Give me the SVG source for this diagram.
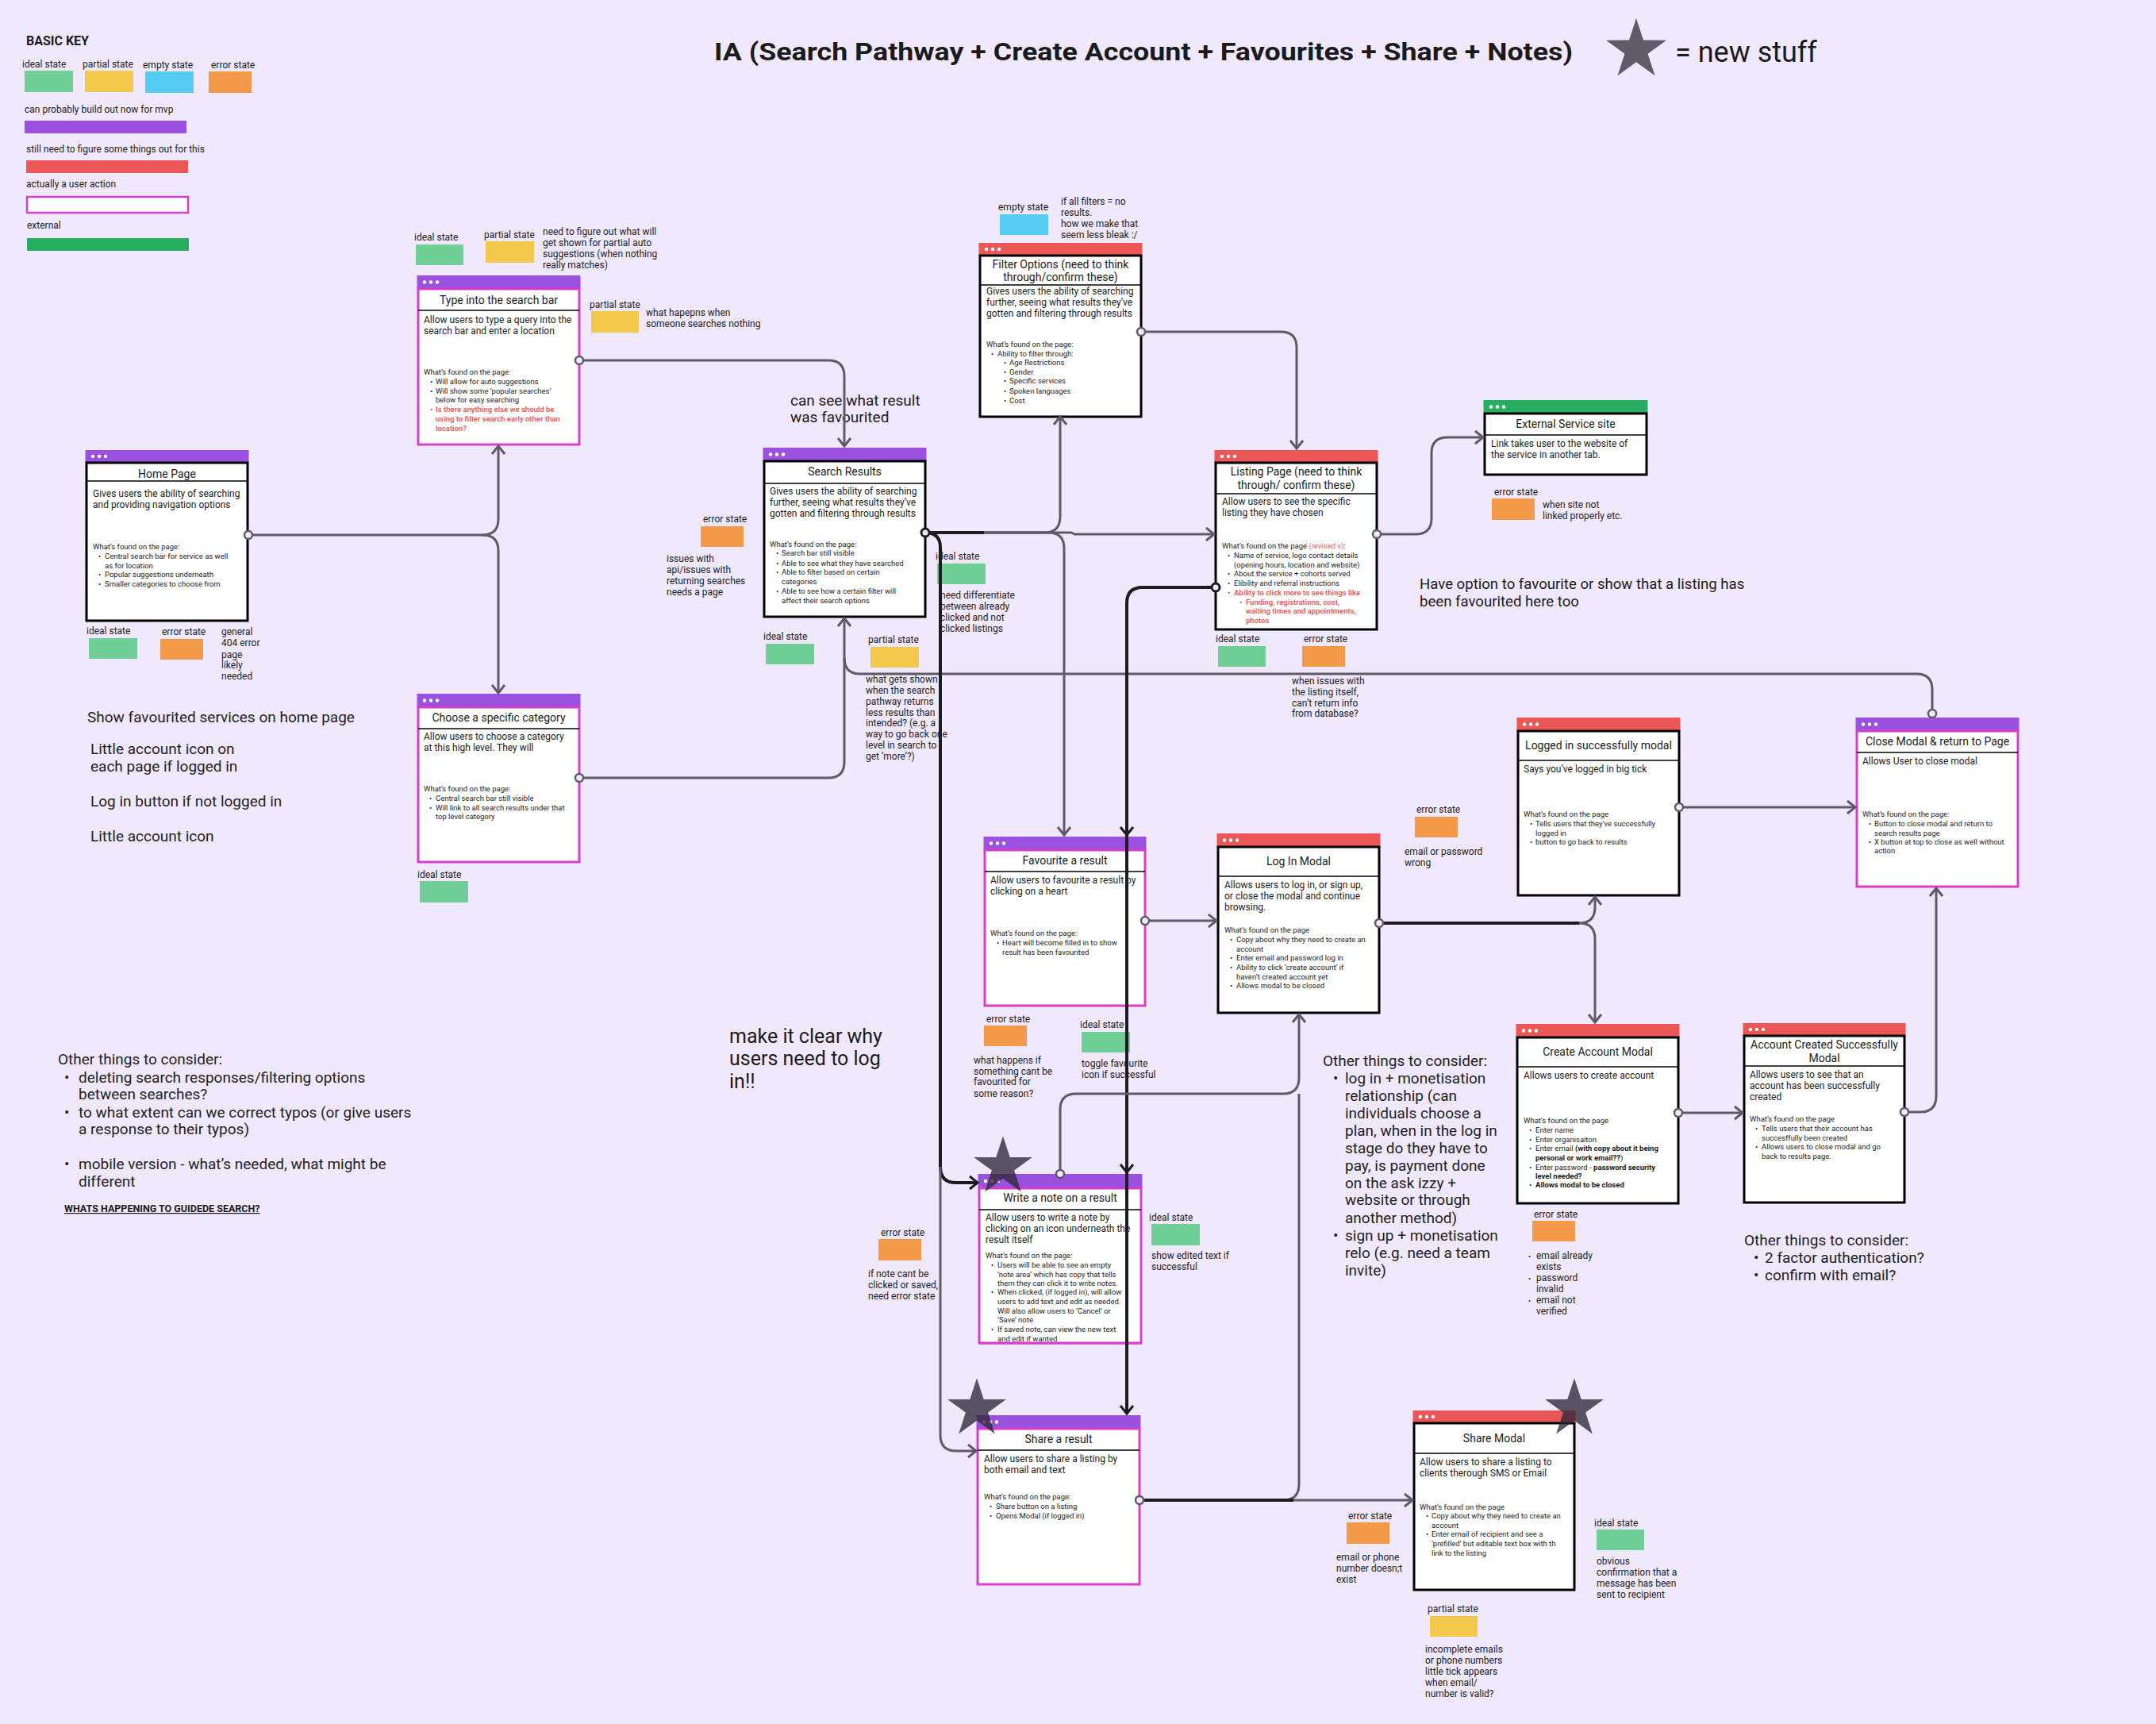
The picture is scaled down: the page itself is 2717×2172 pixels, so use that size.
<svg xmlns="http://www.w3.org/2000/svg" width="2717" height="2172" viewBox="0 0 2717 2172">
<style>
text{font-family:Roboto,"Liberation Sans",Arial,sans-serif;fill:#1b1b1b}
.ttl{font-size:14px;text-anchor:middle}
.dsc{font-size:12px}
.fnd{font-size:9.5px}
.red{fill:#eb5757;font-weight:600}
.b{font-weight:700}
.ann{font-size:12px;fill:#222}
.nt{font-size:19px;fill:#222}
.hp{fill:#9b51e0}.hr{fill:#eb5757}.hg{fill:#27ae60}
.box{fill:#fff;stroke:#000;stroke-width:3}
.boxu{fill:#fff;stroke:#d63fc8;stroke-width:3}
.dv{stroke:#000;stroke-width:1.5}
.dot{fill:#fff}
.si{fill:#6fcf97}.sp{fill:#f2c94c}.se{fill:#56ccf2}.sr{fill:#f2994a}
.con{fill:none;stroke:#5f5a68;stroke-width:3}
.conb{fill:none;stroke:#1c1b1f;stroke-width:4}
.pin{fill:#f0e8fd;stroke:#5f5a68;stroke-width:2.5}
.pinb{fill:#f0e8fd;stroke:#1c1b1f;stroke-width:3}
.star{fill:#2e2838;fill-opacity:0.78}
</style>
<defs>
<marker id="ag" viewBox="0 0 20 20" refX="12" refY="10" markerWidth="20" markerHeight="20" markerUnits="userSpaceOnUse" orient="auto"><path d="M2,2 L12,10 L2,18" fill="none" stroke="#5f5a68" stroke-width="3"/></marker>
<marker id="ab" viewBox="0 0 20 20" refX="12" refY="10" markerWidth="20" markerHeight="20" markerUnits="userSpaceOnUse" orient="auto"><path d="M2,2 L12,10 L2,18" fill="none" stroke="#1c1b1f" stroke-width="3"/></marker>
<polygon id="st" points="0,-40 8.99,-12.38 38.04,-12.36 14.55,4.73 23.51,32.36 0,15.3 -23.51,32.36 -14.55,4.73 -38.04,-12.36 -8.99,-12.38"/>
</defs>
<rect width="2717" height="2172" fill="#f0e8fd"/>

<g id="key">
<text x="33" y="57" style="font-size:16px;font-weight:700">BASIC KEY</text>
<text class="ann" x="28" y="85">ideal state</text>
<text class="ann" x="104" y="85">partial state</text>
<text class="ann" x="180" y="86">empty state</text>
<text class="ann" x="266" y="86">error state</text>
<rect class="si" x="31" y="89" width="61" height="27"/>
<rect class="sp" x="107" y="89" width="61" height="27"/>
<rect class="se" x="183" y="90" width="61" height="27"/>
<rect class="sr" x="263" y="90" width="54" height="27"/>
<text class="ann" x="31" y="142">can probably build out now for mvp</text>
<rect class="hp" x="31" y="152" width="204" height="16"/>
<text class="ann" x="33" y="192">still need to figure some things out for this</text>
<rect class="hr" x="33" y="202" width="204" height="16"/>
<text class="ann" x="33" y="236">actually a user action</text>
<rect x="34" y="248" width="203" height="20" fill="#fff" stroke="#d63fc8" stroke-width="2.5"/>
<text class="ann" x="34" y="288">external</text>
<rect class="hg" x="34" y="300" width="204" height="16"/>
</g>

<g id="title">
<text x="900" y="76" textLength="1082" lengthAdjust="spacingAndGlyphs" style="font-size:32px;font-weight:700">IA (Search Pathway + Create Account + Favourites + Share + Notes)</text>
<use href="#st" transform="translate(2062,63)" style="fill:#5f5b68"/>
<text x="2111" y="78" style="font-size:36px">= new stuff</text>
</g>

<g id="n-home">
<rect class="hp" x="107.5" y="567" width="206" height="16"/>
<circle class="dot" cx="117" cy="575" r="2.2"/><circle class="dot" cx="125" cy="575" r="2.2"/><circle class="dot" cx="133" cy="575" r="2.2"/>
<rect class="box" x="109" y="583" width="203" height="199"/>
<line class="dv" x1="109" y1="606" x2="312" y2="606"/>
<text class="ttl" x="210.5" y="602">Home Page</text>
<text class="dsc" x="117"><tspan x="117" y="626">Gives users the ability of searching</tspan><tspan x="117" y="640">and providing navigation options</tspan></text>
<text class="fnd"><tspan x="117" y="692">What’s found on the page:</tspan><tspan x="124" y="704">•</tspan><tspan x="132" y="704">Central search bar for service as well</tspan><tspan x="132" y="716">as for location</tspan><tspan x="124" y="727">•</tspan><tspan x="132" y="727">Popular suggestions underneath</tspan><tspan x="124" y="739">•</tspan><tspan x="132" y="739">Smaller categories to choose from</tspan></text>
</g>

<g id="n-type">
<rect class="hp" x="525.5" y="347" width="206" height="17"/>
<circle class="dot" cx="535" cy="355.5" r="2.2"/><circle class="dot" cx="543" cy="355.5" r="2.2"/><circle class="dot" cx="551" cy="355.5" r="2.2"/>
<rect class="boxu" x="527" y="364" width="203" height="196"/>
<line class="dv" x1="527" y1="391" x2="730" y2="391"/>
<text class="ttl" x="628.5" y="383">Type into the search bar</text>
<text class="dsc"><tspan x="534" y="407">Allow users to type a query into the</tspan><tspan x="534" y="421">search bar and enter a location</tspan></text>
<text class="fnd"><tspan x="534" y="472">What’s found on the page:</tspan><tspan x="542" y="484">•</tspan><tspan x="549" y="484">Will allow for auto suggestions</tspan><tspan x="542" y="496">•</tspan><tspan x="549" y="496">Will show some ‘popular searches’</tspan><tspan x="549" y="507">below for easy searching</tspan></text>
<text class="fnd red"><tspan x="542" y="519">•</tspan><tspan x="549" y="519">Is there anything else we should be</tspan><tspan x="549" y="531">using to filter search early other than</tspan><tspan x="549" y="543">location?</tspan></text>
</g>

<g id="n-category">
<rect class="hp" x="525.5" y="874" width="206" height="17"/>
<circle class="dot" cx="535" cy="882.5" r="2.2"/><circle class="dot" cx="543" cy="882.5" r="2.2"/><circle class="dot" cx="551" cy="882.5" r="2.2"/>
<rect class="boxu" x="527" y="891" width="203" height="195"/>
<line class="dv" x1="527" y1="918" x2="730" y2="918"/>
<text class="ttl" x="628.5" y="909">Choose a specific category</text>
<text class="dsc"><tspan x="534" y="932">Allow users to choose a category</tspan><tspan x="534" y="946">at this high level. They will</tspan></text>
<text class="fnd"><tspan x="534" y="997">What’s found on the page:</tspan><tspan x="541" y="1009">•</tspan><tspan x="549" y="1009">Central search bar still visible</tspan><tspan x="541" y="1021">•</tspan><tspan x="549" y="1021">Will link to all search results under that</tspan><tspan x="549" y="1032">top level category</tspan></text>
</g>

<g id="n-results">
<rect class="hp" x="961.5" y="564" width="206" height="17"/>
<circle class="dot" cx="971" cy="572.5" r="2.2"/><circle class="dot" cx="979" cy="572.5" r="2.2"/><circle class="dot" cx="987" cy="572.5" r="2.2"/>
<rect class="box" x="963" y="581" width="203" height="196"/>
<line class="dv" x1="963" y1="609" x2="1166" y2="609"/>
<text class="ttl" x="1064.5" y="599">Search Results</text>
<text class="dsc"><tspan x="970" y="623">Gives users the ability of searching</tspan><tspan x="970" y="637">further, seeing what results they’ve</tspan><tspan x="970" y="651">gotten and filtering through results</tspan></text>
<text class="fnd"><tspan x="970" y="689">What’s found on the page:</tspan><tspan x="978" y="700">•</tspan><tspan x="985" y="700">Search bar still visible</tspan><tspan x="978" y="713">•</tspan><tspan x="985" y="713">Able to see what they have searched</tspan><tspan x="978" y="724">•</tspan><tspan x="985" y="724">Able to filter based on certain</tspan><tspan x="985" y="736">categories</tspan><tspan x="978" y="748">•</tspan><tspan x="985" y="748">Able to see how a certain filter will</tspan><tspan x="985" y="760">affect their search options</tspan></text>
</g>

<g id="n-filter">
<rect class="hr" x="1233.5" y="306" width="206" height="16"/>
<circle class="dot" cx="1243" cy="314" r="2.2"/><circle class="dot" cx="1251" cy="314" r="2.2"/><circle class="dot" cx="1259" cy="314" r="2.2"/>
<rect class="box" x="1235" y="322" width="203" height="203"/>
<line class="dv" x1="1235" y1="359" x2="1438" y2="359"/>
<text class="ttl"><tspan x="1336.5" y="338">Filter Options (need to think</tspan><tspan x="1336.5" y="354">through/confirm these)</tspan></text>
<text class="dsc"><tspan x="1243" y="371">Gives users the ability of searching</tspan><tspan x="1243" y="385">further, seeing what results they’ve</tspan><tspan x="1243" y="399">gotten and filtering through results</tspan></text>
<text class="fnd"><tspan x="1243" y="437">What’s found on the page:</tspan><tspan x="1249" y="449">•</tspan><tspan x="1257" y="449">Ability to filter through:</tspan><tspan x="1265" y="460">•</tspan><tspan x="1272" y="460">Age Restrictions</tspan><tspan x="1265" y="472">•</tspan><tspan x="1272" y="472">Gender</tspan><tspan x="1265" y="483">•</tspan><tspan x="1272" y="483">Specific services</tspan><tspan x="1265" y="496">•</tspan><tspan x="1272" y="496">Spoken languages</tspan><tspan x="1265" y="508">•</tspan><tspan x="1272" y="508">Cost</tspan></text>
</g>

<g id="n-listing">
<rect class="hr" x="1530.5" y="567" width="206" height="16"/>
<circle class="dot" cx="1540" cy="575" r="2.2"/><circle class="dot" cx="1548" cy="575" r="2.2"/><circle class="dot" cx="1556" cy="575" r="2.2"/>
<rect class="box" x="1532" y="583" width="203" height="210"/>
<line class="dv" x1="1532" y1="622" x2="1735" y2="622"/>
<text class="ttl"><tspan x="1633.5" y="599">Listing Page (need to think</tspan><tspan x="1633.5" y="616">through/ confirm these)</tspan></text>
<text class="dsc"><tspan x="1540" y="636">Allow users to see the specific</tspan><tspan x="1540" y="650">listing they have chosen</tspan></text>
<text class="fnd"><tspan x="1540" y="691">What’s found on the page <tspan style="fill:#eb5757">(revised v)</tspan>:</tspan><tspan x="1547" y="703">•</tspan><tspan x="1555" y="703">Name of service, logo contact details</tspan><tspan x="1555" y="715">(opening hours, location and website)</tspan><tspan x="1547" y="726">•</tspan><tspan x="1555" y="726">About the service + cohorts served</tspan><tspan x="1547" y="738">•</tspan><tspan x="1555" y="738">Elibility and referral instructions</tspan></text>
<text class="fnd red"><tspan x="1547" y="750">•</tspan><tspan x="1555" y="750">Ability to click more to see things like</tspan><tspan x="1562" y="762">•</tspan><tspan x="1570" y="762">Funding, registrations, cost,</tspan><tspan x="1570" y="773">waiting times and appointments,</tspan><tspan x="1570" y="785">photos</tspan></text>
</g>

<g id="n-external">
<rect class="hg" x="1869.5" y="504" width="207" height="17"/>
<circle class="dot" cx="1879" cy="512.5" r="2.2"/><circle class="dot" cx="1887" cy="512.5" r="2.2"/><circle class="dot" cx="1895" cy="512.5" r="2.2"/>
<rect class="box" x="1871" y="521" width="204" height="77"/>
<line class="dv" x1="1871" y1="548" x2="2075" y2="548"/>
<text class="ttl" x="1973" y="539">External Service site</text>
<text class="dsc"><tspan x="1879" y="563">Link takes user to the website of</tspan><tspan x="1879" y="577">the service in another tab.</tspan></text>
</g>

<g id="n-loggedin">
<rect class="hr" x="1911.5" y="904" width="206" height="17"/>
<circle class="dot" cx="1921" cy="912.5" r="2.2"/><circle class="dot" cx="1929" cy="912.5" r="2.2"/><circle class="dot" cx="1937" cy="912.5" r="2.2"/>
<rect class="box" x="1913" y="921" width="203" height="207"/>
<line class="dv" x1="1913" y1="958" x2="2116" y2="958"/>
<text class="ttl" x="2014.5" y="944">Logged in successfully modal</text>
<text class="dsc" x="1920" y="973">Says you’ve logged in big tick</text>
<text class="fnd"><tspan x="1920" y="1029">What’s found on the page</tspan><tspan x="1928" y="1041">•</tspan><tspan x="1935" y="1041">Tells users that they’ve successfully</tspan><tspan x="1935" y="1053">logged in</tspan><tspan x="1928" y="1064">•</tspan><tspan x="1935" y="1064">button to go back to results</tspan></text>
</g>

<g id="n-close">
<rect class="hp" x="2338.5" y="904" width="206" height="17"/>
<circle class="dot" cx="2348" cy="912.5" r="2.2"/><circle class="dot" cx="2356" cy="912.5" r="2.2"/><circle class="dot" cx="2364" cy="912.5" r="2.2"/>
<rect class="boxu" x="2340" y="921" width="203" height="196"/>
<line class="dv" x1="2340" y1="948" x2="2543" y2="948"/>
<text class="ttl" x="2441.5" y="939">Close Modal &amp; return to Page</text>
<text class="dsc" x="2347" y="963">Allows User to close modal</text>
<text class="fnd"><tspan x="2347" y="1029">What’s found on the page:</tspan><tspan x="2355" y="1041">•</tspan><tspan x="2362" y="1041">Button to close modal and return to</tspan><tspan x="2362" y="1053">search results page</tspan><tspan x="2355" y="1064">•</tspan><tspan x="2362" y="1064">X button at top to close as well without</tspan><tspan x="2362" y="1075">action</tspan></text>
</g>

<g id="n-favourite">
<rect class="hp" x="1239.5" y="1054" width="205" height="17"/>
<circle class="dot" cx="1249" cy="1062.5" r="2.2"/><circle class="dot" cx="1257" cy="1062.5" r="2.2"/><circle class="dot" cx="1265" cy="1062.5" r="2.2"/>
<rect class="boxu" x="1241" y="1071" width="202" height="196"/>
<line class="dv" x1="1241" y1="1098" x2="1443" y2="1098"/>
<text class="ttl" x="1342" y="1089">Favourite a result</text>
<text class="dsc"><tspan x="1248" y="1113">Allow users to favourite a result by</tspan><tspan x="1248" y="1127">clicking on a heart</tspan></text>
<text class="fnd"><tspan x="1248" y="1179">What’s found on the page:</tspan><tspan x="1256" y="1191">•</tspan><tspan x="1263" y="1191">Heart will become filled in to show</tspan><tspan x="1263" y="1203">result has been favourited</tspan></text>
</g>

<g id="n-login">
<rect class="hr" x="1533.5" y="1050" width="206" height="17"/>
<circle class="dot" cx="1543" cy="1058.5" r="2.2"/><circle class="dot" cx="1551" cy="1058.5" r="2.2"/><circle class="dot" cx="1559" cy="1058.5" r="2.2"/>
<rect class="box" x="1535" y="1067" width="203" height="209"/>
<line class="dv" x1="1535" y1="1104" x2="1738" y2="1104"/>
<text class="ttl" x="1636.5" y="1090">Log In Modal</text>
<text class="dsc"><tspan x="1543" y="1119">Allows users to log in, or sign up,</tspan><tspan x="1543" y="1133">or close the modal and continue</tspan><tspan x="1543" y="1147">browsing.</tspan></text>
<text class="fnd"><tspan x="1543" y="1175">What’s found on the page</tspan><tspan x="1550" y="1187">•</tspan><tspan x="1558" y="1187">Copy about why they need to create an</tspan><tspan x="1558" y="1199">account</tspan><tspan x="1550" y="1210">•</tspan><tspan x="1558" y="1210">Enter email and password log in</tspan><tspan x="1550" y="1222">•</tspan><tspan x="1558" y="1222">Ability to click ‘create account’ if</tspan><tspan x="1558" y="1234">haven’t created account yet</tspan><tspan x="1550" y="1245">•</tspan><tspan x="1558" y="1245">Allows modal to be closed</tspan></text>
</g>

<g id="n-create">
<rect class="hr" x="1910.5" y="1290" width="206" height="17"/>
<circle class="dot" cx="1920" cy="1298.5" r="2.2"/><circle class="dot" cx="1928" cy="1298.5" r="2.2"/><circle class="dot" cx="1936" cy="1298.5" r="2.2"/>
<rect class="box" x="1912" y="1307" width="203" height="209"/>
<line class="dv" x1="1912" y1="1344" x2="2115" y2="1344"/>
<text class="ttl" x="2013.5" y="1330">Create Account Modal</text>
<text class="dsc" x="1920" y="1359">Allows users to create account</text>
<text class="fnd"><tspan x="1920" y="1415">What’s found on the page</tspan><tspan x="1927" y="1427">•</tspan><tspan x="1935" y="1427">Enter name</tspan><tspan x="1927" y="1439">•</tspan><tspan x="1935" y="1439">Enter organisaiton</tspan><tspan x="1927" y="1450">•</tspan><tspan x="1935" y="1450">Enter email <tspan class="b">(with copy about it being</tspan></tspan><tspan x="1935" y="1462"><tspan class="b">personal or work email??</tspan>)</tspan><tspan x="1927" y="1474">•</tspan><tspan x="1935" y="1474">Enter password - <tspan class="b">password security</tspan></tspan><tspan x="1935" y="1485" class="b">level needed?</tspan><tspan x="1927" y="1496">•</tspan><tspan x="1935" y="1496" class="b">Allows modal to be closed</tspan></text>
</g>

<g id="n-created">
<rect class="hr" x="2196.5" y="1289" width="205" height="16"/>
<circle class="dot" cx="2206" cy="1297" r="2.2"/><circle class="dot" cx="2214" cy="1297" r="2.2"/><circle class="dot" cx="2222" cy="1297" r="2.2"/>
<rect class="box" x="2198" y="1305" width="202" height="210"/>
<line class="dv" x1="2198" y1="1343" x2="2400" y2="1343"/>
<text class="ttl"><tspan x="2299" y="1321">Account Created Successfully</tspan><tspan x="2299" y="1338">Modal</tspan></text>
<text class="dsc"><tspan x="2205" y="1358">Allows users to see that an</tspan><tspan x="2205" y="1372">account has been successfully</tspan><tspan x="2205" y="1386">created</tspan></text>
<text class="fnd"><tspan x="2205" y="1413">What’s found on the page</tspan><tspan x="2212" y="1425">•</tspan><tspan x="2220" y="1425">Tells users that their account has</tspan><tspan x="2220" y="1437">succesffully been created</tspan><tspan x="2212" y="1448">•</tspan><tspan x="2220" y="1448">Allows users to close modal and go</tspan><tspan x="2220" y="1460">back to results page.</tspan></text>
</g>

<g id="n-note">
<rect class="hp" x="1232.5" y="1479" width="207" height="18"/>
<circle class="dot" cx="1242" cy="1488" r="2.2"/><circle class="dot" cx="1250" cy="1488" r="2.2"/><circle class="dot" cx="1258" cy="1488" r="2.2"/>
<rect class="boxu" x="1234" y="1497" width="204" height="195"/>
<line class="dv" x1="1234" y1="1524" x2="1438" y2="1524"/>
<text class="ttl" x="1336" y="1514">Write a note on a result</text>
<text class="dsc"><tspan x="1242" y="1538">Allow users to write a note by</tspan><tspan x="1242" y="1552">clicking on an icon underneath the</tspan><tspan x="1242" y="1566">result itself</tspan></text>
<text class="fnd"><tspan x="1242" y="1585">What’s found on the page:</tspan><tspan x="1249" y="1597">•</tspan><tspan x="1257" y="1597">Users will be able to see an empty</tspan><tspan x="1257" y="1609">‘note area’ which has copy that tells</tspan><tspan x="1257" y="1620">them they can click it to write notes.</tspan><tspan x="1249" y="1631">•</tspan><tspan x="1257" y="1631">When clicked, (if logged in), will allow</tspan><tspan x="1257" y="1643">users to add text and edit as needed.</tspan><tspan x="1257" y="1655">Will also allow users to ‘Cancel’ or</tspan><tspan x="1257" y="1666">‘Save’ note</tspan><tspan x="1249" y="1678">•</tspan><tspan x="1257" y="1678">If saved note, can view the new text</tspan><tspan x="1257" y="1690">and edit if wanted</tspan></text>
<rect x="1234" y="1692" width="204" height="1.5" fill="#d63fc8"/>
</g>

<g id="n-share">
<rect class="hp" x="1230.5" y="1783" width="207" height="17"/>
<circle class="dot" cx="1240" cy="1791.5" r="2.2"/><circle class="dot" cx="1248" cy="1791.5" r="2.2"/><circle class="dot" cx="1256" cy="1791.5" r="2.2"/>
<rect class="boxu" x="1232" y="1800" width="204" height="196"/>
<line class="dv" x1="1232" y1="1827" x2="1436" y2="1827"/>
<text class="ttl" x="1334" y="1818">Share a result</text>
<text class="dsc"><tspan x="1240" y="1842">Allow users to share a listing by</tspan><tspan x="1240" y="1856">both email and text</tspan></text>
<text class="fnd"><tspan x="1240" y="1889">What’s found on the page:</tspan><tspan x="1247" y="1901">•</tspan><tspan x="1255" y="1901">Share button on a listing</tspan><tspan x="1247" y="1913">•</tspan><tspan x="1255" y="1913">Opens Modal (if logged in)</tspan></text>
</g>

<g id="n-sharemodal">
<rect class="hr" x="1780.5" y="1777" width="205" height="16"/>
<circle class="dot" cx="1790" cy="1785" r="2.2"/><circle class="dot" cx="1798" cy="1785" r="2.2"/><circle class="dot" cx="1806" cy="1785" r="2.2"/>
<rect class="box" x="1782" y="1793" width="202" height="210"/>
<line class="dv" x1="1782" y1="1831" x2="1984" y2="1831"/>
<text class="ttl" x="1883" y="1817">Share Modal</text>
<text class="dsc"><tspan x="1789" y="1846">Allow users to share a listing to</tspan><tspan x="1789" y="1860">clients therough SMS or Email</tspan></text>
<text class="fnd"><tspan x="1789" y="1902">What’s found on the page</tspan><tspan x="1797" y="1913">•</tspan><tspan x="1804" y="1913">Copy about why they need to create an</tspan><tspan x="1804" y="1925">account</tspan><tspan x="1797" y="1936">•</tspan><tspan x="1804" y="1936">Enter email of recipient and see a</tspan><tspan x="1804" y="1948">‘prefilled’ but editable text box with th</tspan><tspan x="1804" y="1960">link to the listing</tspan></text>
</g>

<g id="annotations">
<text class="ann" x="522" y="303">ideal state</text><rect class="si" x="524" y="308" width="60" height="26"/>
<text class="ann" x="610" y="300">partial state</text><rect class="sp" x="612" y="304" width="61" height="27"/>
<text class="ann"><tspan x="684" y="296">need to figure out what will</tspan><tspan x="684" y="310">get shown for partial auto</tspan><tspan x="684" y="324">suggestions (when nothing</tspan><tspan x="684" y="338">really matches)</tspan></text>
<text class="ann" x="743" y="388">partial state</text><rect class="sp" x="745" y="392" width="60" height="27"/>
<text class="ann"><tspan x="814" y="398">what hapepns when</tspan><tspan x="814" y="412">someone searches nothing</tspan></text>

<text class="ann" x="109" y="799">ideal state</text><rect class="si" x="112" y="804" width="61" height="26"/>
<text class="ann" x="204" y="800">error state</text><rect class="sr" x="202" y="805" width="54" height="26"/>
<text class="ann"><tspan x="279" y="800">general</tspan><tspan x="279" y="814">404 error</tspan><tspan x="279" y="829">page</tspan><tspan x="279" y="842">likely</tspan><tspan x="279" y="856">needed</tspan></text>

<text class="ann" x="886" y="658">error state</text><rect class="sr" x="883" y="663" width="54" height="26"/>
<text class="ann"><tspan x="840" y="708">issues with</tspan><tspan x="840" y="722">api/issues with</tspan><tspan x="840" y="736">returning searches</tspan><tspan x="840" y="750">needs a page</tspan></text>

<text class="ann" x="962" y="806">ideal state</text><rect class="si" x="965" y="811" width="61" height="26"/>
<text class="ann" x="1094" y="810">partial state</text><rect class="sp" x="1097" y="815" width="61" height="26"/>
<text class="ann"><tspan x="1091" y="860">what gets shown</tspan><tspan x="1091" y="874">when the search</tspan><tspan x="1091" y="888">pathway returns</tspan><tspan x="1091" y="902">less results than</tspan><tspan x="1091" y="915">intended? (e.g. a</tspan><tspan x="1091" y="929">way to go back one</tspan><tspan x="1091" y="943">level in search to</tspan><tspan x="1091" y="957">get ‘more’?)</tspan></text>

<text class="ann" x="1179" y="705">ideal state</text><rect class="si" x="1181" y="710" width="61" height="26"/>
<text class="ann"><tspan x="1185" y="754">need differentiate</tspan><tspan x="1185" y="768">between already</tspan><tspan x="1185" y="782">clicked and not</tspan><tspan x="1185" y="796">clicked listings</tspan></text>

<text class="ann" x="1258" y="265">empty state</text><rect class="se" x="1260" y="270" width="61" height="26"/>
<text class="ann"><tspan x="1337" y="258">if all filters = no</tspan><tspan x="1337" y="272">results.</tspan><tspan x="1337" y="286">how we make that</tspan><tspan x="1337" y="300">seem less bleak :/</tspan></text>

<text x="996" y="511" style="font-size:19px">can see what result</text>
<text x="996" y="532" style="font-size:19px">was favourited</text>

<text class="ann" x="1532" y="809">ideal state</text><rect class="si" x="1535" y="814" width="60" height="26"/>
<text class="ann" x="1643" y="809">error state</text><rect class="sr" x="1641" y="814" width="54" height="26"/>
<text class="ann"><tspan x="1628" y="862">when issues with</tspan><tspan x="1628" y="876">the listing itself,</tspan><tspan x="1628" y="890">can’t return info</tspan><tspan x="1628" y="903">from database?</tspan></text>
<text class="ann" x="1883" y="624">error state</text><rect class="sr" x="1880" y="628" width="54" height="27"/>
<text class="ann"><tspan x="1944" y="640">when site not</tspan><tspan x="1944" y="654">linked properly etc.</tspan></text>
<text style="font-size:18.6px"><tspan x="1789" y="742">Have option to favourite or show that a listing has</tspan><tspan x="1789" y="764">been favourited here too</tspan></text>

<text class="nt" x="110" y="910">Show favourited services on home page</text>
<text class="nt"><tspan x="114" y="950">Little account icon on</tspan><tspan x="114" y="972">each page if logged in</tspan></text>
<text class="nt" x="114" y="1016">Log in button if not logged in</text>
<text class="nt" x="114" y="1060">Little account icon</text>
<text class="ann" x="526" y="1106">ideal state</text><rect class="si" x="529" y="1110" width="61" height="27"/>

<text class="ann" x="1785" y="1024">error state</text><rect class="sr" x="1783" y="1029" width="54" height="26"/>
<text class="ann"><tspan x="1770" y="1077">email or password</tspan><tspan x="1770" y="1091">wrong</tspan></text>

<text class="ann" x="1243" y="1288">error state</text><rect class="sr" x="1240" y="1292" width="54" height="26"/>
<text class="ann"><tspan x="1227" y="1340">what happens if</tspan><tspan x="1227" y="1354">something cant be</tspan><tspan x="1227" y="1367">favourited for</tspan><tspan x="1227" y="1382">some reason?</tspan></text>
<text class="ann" x="1361" y="1295">ideal state</text><rect class="si" x="1363" y="1300" width="61" height="26"/>
<text class="ann"><tspan x="1363" y="1344">toggle favourite</tspan><tspan x="1363" y="1358">icon if successful</tspan></text>

<text style="font-size:25px"><tspan x="919" y="1314">make it clear why</tspan><tspan x="919" y="1342">users need to log</tspan><tspan x="919" y="1371">in!!</tspan></text>

<text class="nt"><tspan x="1667" y="1343">Other things to consider:</tspan><tspan x="1680" y="1365">•</tspan><tspan x="1695" y="1365">log in + monetisation</tspan><tspan x="1695" y="1387">relationship (can</tspan><tspan x="1695" y="1409">individuals choose a</tspan><tspan x="1695" y="1431">plan, when in the log in</tspan><tspan x="1695" y="1453">stage do they have to</tspan><tspan x="1695" y="1475">pay, is payment done</tspan><tspan x="1695" y="1497">on the ask izzy +</tspan><tspan x="1695" y="1518">website or through</tspan><tspan x="1695" y="1541">another method)</tspan><tspan x="1680" y="1563">•</tspan><tspan x="1695" y="1563">sign up + monetisation</tspan><tspan x="1695" y="1585">relo (e.g. need a team</tspan><tspan x="1695" y="1607">invite)</tspan></text>

<text class="ann" x="1933" y="1534">error state</text><rect class="sr" x="1931" y="1538" width="54" height="26"/>
<text class="ann"><tspan x="1926" y="1586" style="font-size:9px">•</tspan><tspan x="1936" y="1586">email already</tspan><tspan x="1936" y="1600">exists</tspan><tspan x="1926" y="1614" style="font-size:9px">•</tspan><tspan x="1936" y="1614">password</tspan><tspan x="1936" y="1628">invalid</tspan><tspan x="1926" y="1642" style="font-size:9px">•</tspan><tspan x="1936" y="1642">email not</tspan><tspan x="1936" y="1656">verified</tspan></text>

<text class="nt"><tspan x="2198" y="1569">Other things to consider:</tspan><tspan x="2210" y="1591">•</tspan><tspan x="2224" y="1591">2 factor authentication?</tspan><tspan x="2210" y="1613">•</tspan><tspan x="2224" y="1613">confirm with email?</tspan></text>

<text class="ann" x="1110" y="1557">error state</text><rect class="sr" x="1107" y="1561" width="54" height="27"/>
<text class="ann"><tspan x="1094" y="1609">if note cant be</tspan><tspan x="1094" y="1623">clicked or saved,</tspan><tspan x="1094" y="1637">need error state</tspan></text>
<text class="ann" x="1448" y="1538">ideal state</text><rect class="si" x="1451" y="1542" width="61" height="27"/>
<text class="ann"><tspan x="1451" y="1586">show edited text if</tspan><tspan x="1451" y="1600">successful</tspan></text>

<text class="ann" x="1699" y="1914">error state</text><rect class="sr" x="1697" y="1918" width="54" height="27"/>
<text class="ann"><tspan x="1684" y="1966">email or phone</tspan><tspan x="1684" y="1980">number doesn;t</tspan><tspan x="1684" y="1994">exist</tspan></text>
<text class="ann" x="2009" y="1923">ideal state</text><rect class="si" x="2012" y="1927" width="60" height="26"/>
<text class="ann"><tspan x="2012" y="1971">obvious</tspan><tspan x="2012" y="1985">confirmation that a</tspan><tspan x="2012" y="1999">message has been</tspan><tspan x="2012" y="2013">sent to recipient</tspan></text>
<text class="ann" x="1799" y="2031">partial state</text><rect class="sp" x="1802" y="2036" width="60" height="26"/>
<text class="ann"><tspan x="1796" y="2082">incomplete emails</tspan><tspan x="1796" y="2096">or phone numbers</tspan><tspan x="1796" y="2110">little tick appears</tspan><tspan x="1796" y="2124">when email/</tspan><tspan x="1796" y="2138">number is valid?</tspan></text>

<text class="nt"><tspan x="73" y="1341">Other things to consider:</tspan><tspan x="81" y="1364">•</tspan><tspan x="99" y="1364">deleting search responses/filtering options</tspan><tspan x="99" y="1385">between searches?</tspan><tspan x="81" y="1408">•</tspan><tspan x="99" y="1408">to what extent can we correct typos (or give users</tspan><tspan x="99" y="1429">a response to their typos)</tspan><tspan x="81" y="1473">•</tspan><tspan x="99" y="1473">mobile version - what’s needed, what might be</tspan><tspan x="99" y="1495">different</tspan></text>
<text x="81" y="1527" style="font-size:12.5px;font-weight:700;text-decoration:underline">WHATS HAPPENING TO GUIDEDE SEARCH?</text>
</g>

<g id="connectors">
<path class="con" d="M313,674 H608 Q628,674 628,654 V562" marker-end="url(#ag)"/>
<path class="con" d="M608,674 Q628,674 628,694 V873" marker-end="url(#ag)"/>
<path class="con" d="M730,454 H1044 Q1064,454 1064,474 V562" marker-end="url(#ag)"/>
<path class="con" d="M730,980 H1044 Q1064,980 1064,960 V779" marker-end="url(#ag)"/>
<path class="con" d="M2435,899 V869 Q2435,849 2415,849 H1084 Q1064,849 1064,829"/>
<path class="con" d="M1166,671 H1316 Q1336,671 1336,651 V525" marker-end="url(#ag)"/>
<path class="con" d="M1166,671 H1350 L1354,673 H1530" marker-end="url(#ag)"/>
<path class="con" d="M1166,671 H1321 Q1341,671 1341,691 V1052" marker-end="url(#ag)"/>
<path class="conb" d="M1166,671 H1240"/>
<path class="conb" d="M1166,671 Q1185,671 1185,690 V1470 Q1185,1490 1205,1490 H1232" marker-end="url(#ab)"/>
<path class="con" d="M1185,1470 V1808 Q1185,1828 1205,1828 H1230" marker-end="url(#ag)"/>
<path class="con" d="M1438,418 H1614 Q1634,418 1634,438 V565" marker-end="url(#ag)"/>
<path class="con" d="M1735,673 H1784 Q1804,673 1804,653 V571 Q1804,551 1824,551 H1869" marker-end="url(#ag)"/>
<path class="conb" d="M1532,740 H1440 Q1420,740 1420,760 V1052" marker-end="url(#ab)"/>
<path class="conb" d="M1420,1052 V1477" marker-end="url(#ab)"/>
<path class="conb" d="M1420,1477 V1781" marker-end="url(#ab)"/>
<path class="con" d="M1443,1160 H1533" marker-end="url(#ag)"/>
<path class="conb" d="M1738,1163 H1990"/>
<path class="con" d="M1990,1163 Q2010,1163 2010,1143 V1130" marker-end="url(#ag)"/>
<path class="con" d="M1990,1163 Q2010,1163 2010,1183 V1288" marker-end="url(#ag)"/>
<path class="con" d="M2116,1017 H2338" marker-end="url(#ag)"/>
<path class="con" d="M2115,1402 H2196" marker-end="url(#ag)"/>
<path class="con" d="M2400,1401 H2420 Q2440,1401 2440,1381 V1119" marker-end="url(#ag)"/>
<path class="con" d="M1336,1479 V1398 Q1336,1378 1356,1378 H1617 Q1637,1378 1637,1358 V1278" marker-end="url(#ag)"/>
<path class="con" d="M1436,1890 H1617 Q1637,1890 1637,1870 V1378"/>
<path class="conb" d="M1436,1890 H1630"/>
<path class="con" d="M1630,1890 H1780" marker-end="url(#ag)"/>
<circle class="pin" cx="313" cy="674" r="5"/>
<circle class="pin" cx="730" cy="454" r="5"/>
<circle class="pin" cx="730" cy="980" r="5"/>
<circle class="pin" cx="2435" cy="899" r="5"/>
<circle class="pinb" cx="1166" cy="671" r="5"/>
<circle class="pin" cx="1438" cy="418" r="5"/>
<circle class="pin" cx="1735" cy="673" r="5"/>
<circle class="pinb" cx="1532" cy="740" r="5"/>
<circle class="pin" cx="1443" cy="1160" r="5"/>
<circle class="pin" cx="1738" cy="1163" r="5"/>
<circle class="pin" cx="2116" cy="1017" r="5"/>
<circle class="pin" cx="2115" cy="1402" r="5"/>
<circle class="pin" cx="2400" cy="1401" r="5"/>
<circle class="pin" cx="1336" cy="1479" r="5"/>
<circle class="pin" cx="1436" cy="1890" r="5"/>
</g>

<g id="stars">
<use href="#st" class="star" transform="translate(1264,1470) scale(0.97)"/>
<use href="#st" class="star" transform="translate(1231,1775) scale(0.97)"/>
<use href="#st" class="star" transform="translate(1984,1775) scale(0.97)"/>
</g>
</svg>
